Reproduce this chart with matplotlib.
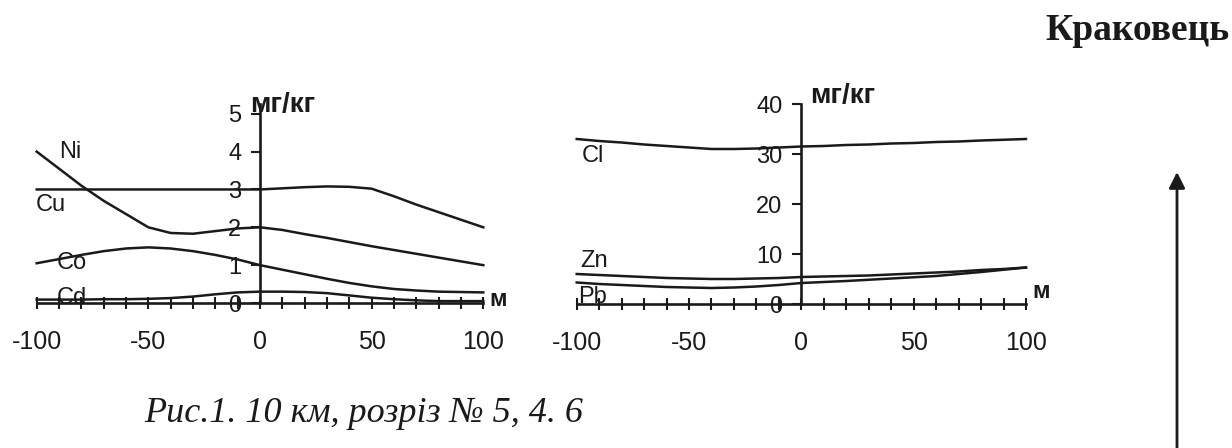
import numpy as np
import matplotlib
matplotlib.use("Agg")
import matplotlib.pyplot as plt
from matplotlib.ticker import FixedLocator, MultipleLocator

# distance along the profile, m
dist = [-100, -90, -80, -70, -60, -50, -40, -30, -20, -10, 0,
        10, 20, 30, 40, 50, 60, 70, 80, 90, 100]

# left panel, mg/kg
ni = [4.0, 3.55, 3.1, 2.7, 2.35, 2.0, 1.85, 1.83, 1.9, 1.97, 2.0,
      1.93, 1.82, 1.72, 1.61, 1.5, 1.4, 1.3, 1.2, 1.1, 1.0]
cu = [3.0, 3.0, 3.0, 3.0, 3.0, 3.0, 3.0, 3.0, 3.0, 3.0, 3.0,
      3.03, 3.06, 3.08, 3.07, 3.02, 2.82, 2.6, 2.4, 2.2, 2.0]
co = [1.05, 1.16, 1.27, 1.37, 1.44, 1.47, 1.44, 1.37, 1.27, 1.15, 1.0,
      0.88, 0.76, 0.64, 0.53, 0.44, 0.37, 0.33, 0.3, 0.29, 0.28]
cd = [0.09, 0.09, 0.09, 0.1, 0.1, 0.11, 0.13, 0.17, 0.23, 0.28, 0.3,
      0.3, 0.29, 0.26, 0.2, 0.14, 0.1, 0.07, 0.05, 0.05, 0.05]

# right panel, mg/kg
cl = [33.0, 32.6, 32.3, 31.9, 31.6, 31.3, 31.0, 31.0, 31.1, 31.3, 31.5,
      31.6, 31.8, 31.9, 32.1, 32.2, 32.4, 32.5, 32.7, 32.85, 33.0]
zn = [6.0, 5.8, 5.6, 5.4, 5.2, 5.1, 5.0, 5.0, 5.1, 5.2, 5.4,
      5.5, 5.6, 5.7, 5.9, 6.1, 6.3, 6.5, 6.8, 7.0, 7.3]
pb = [4.3, 4.0, 3.8, 3.6, 3.4, 3.3, 3.2, 3.3, 3.5, 3.8, 4.2,
      4.4, 4.6, 4.85, 5.1, 5.35, 5.6, 6.0, 6.4, 6.85, 7.3]

xticks_lab = [-100, -50, 0, 50, 100]
left_yticks = [0, 1, 2, 3, 4, 5]
right_yticks = [0, 10, 20, 30, 40]

ink = "#1a1a1a"
W, H = 1232, 448
plt.rcParams["font.family"] = ["Liberation Sans", "DejaVu Sans"]
plt.rcParams["axes.unicode_minus"] = False


def px_axes(fig, x0, x1, ytop, ybot):
    return fig.add_axes([x0 / W, 1 - ybot / H, (x1 - x0) / W, (ybot - ytop) / H])


def style(ax, yticks, ymax):
    ax.set_xlim(-100, 100)
    ax.set_ylim(0, ymax)
    ax.patch.set_alpha(0)
    for s in ["top", "right"]:
        ax.spines[s].set_visible(False)
    ax.spines["left"].set_position(("data", 0))
    ax.spines["left"].set_bounds(0, ymax)
    for s in ["left", "bottom"]:
        ax.spines[s].set_linewidth(1.9)
        ax.spines[s].set_color(ink)
    ax.xaxis.set_major_locator(FixedLocator(xticks_lab))
    ax.xaxis.set_minor_locator(MultipleLocator(10))
    ax.tick_params(axis="x", which="both", direction="inout", length=9,
                   width=1.5, color=ink, labelsize=18, pad=15, labelcolor=ink)
    ax.set_yticks(yticks)
    ax.tick_params(axis="y", direction="out", length=6.5, width=1.5,
                   color=ink, labelsize=17, pad=7, labelcolor=ink)


fig = plt.figure(figsize=(W / 100, H / 100), dpi=100)

# left panel
ax1 = px_axes(fig, 36.7, 483.3, 104.3, 303)
style(ax1, left_yticks, 5.25)
for vals in [ni, cu, co, cd]:
    ax1.plot(dist, vals, color=ink, lw=1.8, clip_on=False)
for name, x, y in [("Ni", -90, 3.99), ("Cu", -100.3, 2.59),
                   ("Co", -90.9, 1.06), ("Cd", -90.9, 0.13)]:
    ax1.text(x, y, name, fontsize=17, color=ink, ha="left", va="center")
ax1.text(-4.5, 5.23, "мг/кг", fontsize=20, fontweight="bold", color=ink,
         ha="left", va="center")
ax1.text(102.6, 0.1, "м", fontsize=17, fontweight="bold", color=ink,
         ha="left", va="center")

# right panel
ax2 = px_axes(fig, 576.7, 1026, 104, 304)
style(ax2, right_yticks, 40)
for vals in [cl, zn, pb]:
    ax2.plot(dist, vals, color=ink, lw=1.8, clip_on=False)
for name, x, y in [("Cl", -97.6, 29.6), ("Zn", -98.5, 8.6), ("Pb", -99.4, 1.4)]:
    ax2.text(x, y, name, fontsize=17, color=ink, ha="left", va="center")
ax2.text(3.9, 41.6, "мг/кг", fontsize=20, fontweight="bold", color=ink,
         ha="left", va="center")
ax2.text(103, 2.6, "м", fontsize=17, fontweight="bold", color=ink,
         ha="left", va="center")

# title, caption, arrow
fig.text(1230 / W, 1 - 31 / H, "Краковець", family="Liberation Serif",
         fontweight="bold", fontsize=27, color=ink, ha="right", va="center")
fig.text(364 / W, 1 - 413 / H, "Рис.1. 10 км, розріз № 5, 4. 6",
         family="Liberation Serif", style="italic", fontsize=26, color=ink,
         ha="center", va="center")
ax2.annotate("", xy=(1177, H - 172), xytext=(1177, -5),
             xycoords="figure pixels", textcoords="figure pixels",
             arrowprops=dict(arrowstyle="-|>", lw=2, color=ink,
                             mutation_scale=24, shrinkA=0, shrinkB=0),
             annotation_clip=False)

fig.savefig("out.png", dpi=100, facecolor="white")
